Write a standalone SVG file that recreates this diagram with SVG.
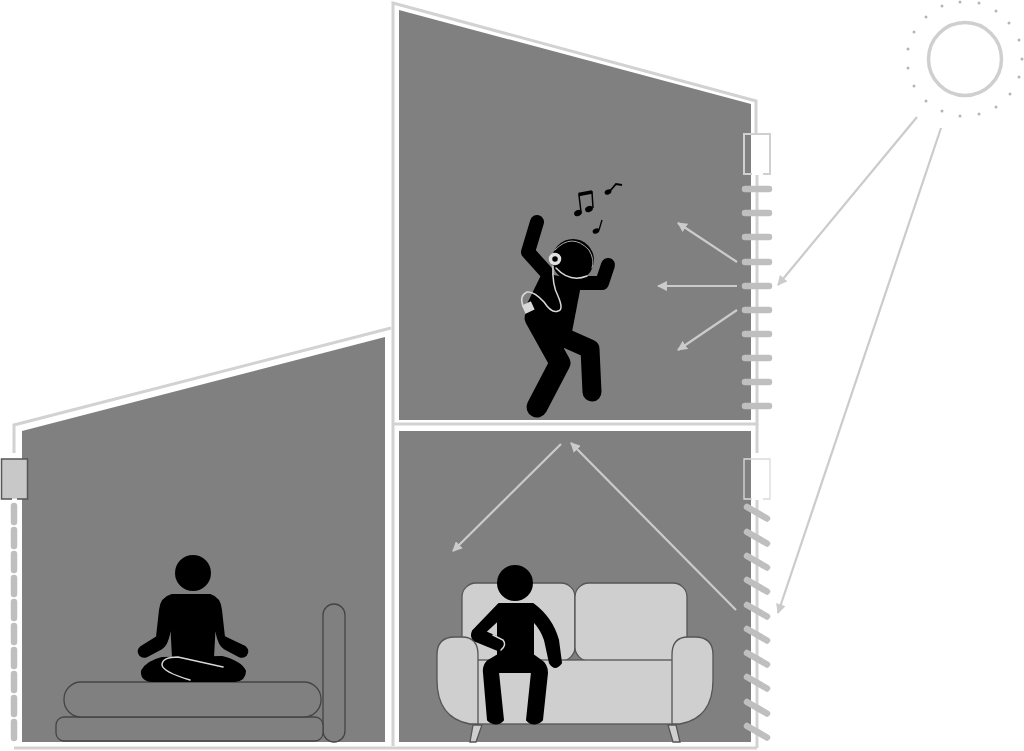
<svg xmlns="http://www.w3.org/2000/svg" width="1024" height="751" viewBox="0 0 1024 751">
<style>
.room{fill:#808080}
.wall{fill:none;stroke:#d2d2d2;stroke-width:3}
.slat{fill:none;stroke:#bfbfbf;stroke-width:6.500;stroke-linecap:round}
.frame{fill:none;stroke:#d0d0d0;stroke-width:2}
.frame.faint{stroke:#dadada;stroke-width:1.300}
.ray{fill:none;stroke:#cbcbcb;stroke-width:2.200}
.sofa{fill:#cfcfcf;stroke:#555;stroke-width:1.300}
.bed{fill:#808080;stroke:#444;stroke-width:1.300}
.body{fill:#000;stroke:#000;stroke-width:2;stroke-linejoin:round}
.limb{fill:none;stroke:#000;stroke-linecap:round;stroke-linejoin:round}
.wire{fill:none;stroke:#d8d8d8;stroke-width:1.500;stroke-linecap:round}
.band{fill:none;stroke:#a8a8a8;stroke-width:1;stroke-linecap:round}
.dot{fill:#b5b5b5}
</style>
<defs>
<marker id="tip" viewBox="0 0 10 10" refX="9" refY="5" markerWidth="4.500" markerHeight="4.500" orient="auto"><path d="M0 0L10 5L0 10Z" fill="#cbcbcb"/></marker>
<path id="flat" d="M745 0H769" class="slat"/>
<path id="tilt" d="M747 0L767 11.500" class="slat"/>
<path id="vert" d="M14 0V16" class="slat"/>
</defs>
<rect width="1024" height="751" fill="#fff"/>

<g id="rooms">
<path class="room" d="M399 10L751 104V420H399Z"/>
<path class="room" d="M399 431H751V742H399Z"/>
<path class="room" d="M22 431L385 337V742H22Z"/>
</g>

<g id="walls">
<path class="wall" d="M393 746V3L756 101V133"/>
<path class="wall" d="M757 175V424H393"/>
<path class="wall" d="M757 424V453"/>
<path class="wall" d="M757 500V748"/>
<path class="wall" d="M14 453V425L391 328"/>
<path class="wall" d="M14 748H757"/>
</g>

<g id="sun">
<circle cx="965" cy="59" r="36.500" fill="#fff" stroke="#cfcfcf" stroke-width="3.500"/>
<g class="dot">
<circle cx="960" cy="2" r="1.500"/><circle cx="979" cy="3" r="1.500"/><circle cx="996" cy="11" r="1.500"/><circle cx="1009" cy="23" r="1.500"/><circle cx="1019" cy="40" r="1.500"/><circle cx="1022" cy="59" r="1.500"/><circle cx="1019" cy="77" r="1.500"/><circle cx="1010" cy="94" r="1.500"/><circle cx="996" cy="107" r="1.500"/><circle cx="979" cy="114" r="1.500"/><circle cx="960" cy="116" r="1.500"/><circle cx="942" cy="111" r="1.500"/><circle cx="926" cy="101" r="1.500"/><circle cx="914" cy="86" r="1.500"/><circle cx="908" cy="68" r="1.500"/><circle cx="908" cy="49" r="1.500"/><circle cx="914" cy="32" r="1.500"/><circle cx="926" cy="17" r="1.500"/><circle cx="942" cy="6" r="1.500"/>
</g>
</g>

<g id="connectors">
<path class="ray" marker-end="url(#tip)" d="M917 117L778 285"/>
<path class="ray" marker-end="url(#tip)" d="M941 128L778 613"/>
<path class="ray" marker-end="url(#tip)" d="M737 262L678 223"/>
<path class="ray" marker-end="url(#tip)" d="M737 286H658"/>
<path class="ray" marker-end="url(#tip)" d="M737 310L678 350"/>
<path class="ray" marker-end="url(#tip)" d="M736 610L571 443"/>
<path class="ray" marker-end="url(#tip)" d="M561 444L453 551"/>
</g>

<g id="upper-blind">
<path class="frame" d="M752 174H744V134H770V174H763"/>
<use href="#flat" y="189"/><use href="#flat" y="213"/><use href="#flat" y="237"/><use href="#flat" y="262"/><use href="#flat" y="286"/><use href="#flat" y="310"/><use href="#flat" y="334"/><use href="#flat" y="358"/><use href="#flat" y="382"/><use href="#flat" y="406"/>
</g>

<g id="lower-blind">
<path class="frame faint" d="M752 499H744V459H770V499H763"/>
<use href="#tilt" y="507"/><use href="#tilt" y="532"/><use href="#tilt" y="556"/><use href="#tilt" y="580"/><use href="#tilt" y="605"/><use href="#tilt" y="629"/><use href="#tilt" y="653"/><use href="#tilt" y="677"/><use href="#tilt" y="702"/><use href="#tilt" y="726"/>
</g>

<g id="side-blind">
<rect x="1.500" y="459" width="26" height="40" fill="#c8c8c8" stroke="#555" stroke-width="1.500"/>
<path d="M12 499.500h5" stroke="#fff" stroke-width="2.500"/>
<use href="#vert" y="506"/><use href="#vert" y="530"/><use href="#vert" y="554"/><use href="#vert" y="578"/><use href="#vert" y="602"/><use href="#vert" y="626"/><use href="#vert" y="650"/><use href="#vert" y="674"/><use href="#vert" y="698"/><use href="#vert" y="722"/>
</g>

<g id="bed">
<rect class="bed" x="323" y="604" width="22" height="138" rx="11"/>
<rect class="bed" x="56" y="717" width="267" height="24" rx="8"/>
<rect class="bed" x="64" y="682" width="257" height="35" rx="17"/>
</g>

<g id="sofa">
<path class="sofa" d="M470 742L473 725H482L476 742Z"/>
<path class="sofa" d="M673 742L668 725H676L680 742Z"/>
<rect class="sofa" x="462" y="583" width="113" height="78" rx="14"/>
<rect class="sofa" x="575" y="583" width="112" height="78" rx="14"/>
<rect class="sofa" x="470" y="660" width="210" height="64"/>
<path class="sofa" d="M437 655Q437 637 455 637H462Q478 637 478 655V724H470Q437 718 437 680Z"/>
<path class="sofa" d="M713 655Q713 637 695 637H688Q672 637 672 655V724H680Q713 718 713 680Z"/>
</g>

<g id="meditating-person">
<circle cx="193" cy="573" r="18"/>
<path class="body" d="M193 595H172Q161 598 160 610L157 637L141 647Q137 651 140 655Q143 658 147 656L162 648Q169 644 171 620L173 658H213L215 620Q217 644 224 648L239 656Q243 658 246 655Q249 651 245 647L224 637L221 610Q220 598 210 595Z"/>
<path class="body" d="M162 658Q146 662 142 671Q141 680 152 681H235Q245 680 245 671Q241 662 222 657Z"/>
<path class="wire" stroke-width="1" d="M223 667L178 657Q162 657 162 665Q163 672 190 680"/>
</g>

<g id="sitting-person">
<circle cx="515" cy="583" r="18"/>
<path class="body" d="M499 604L473 631Q470 638 476 641L498 650Q503 652 505 646Q506 641 501 639L485 632L498 620V655L488 661Q483 666 484 673L488 720Q496 727 503 720L498 672H532L527 720Q534 727 542 720L547 673Q547 664 540 660L533 655V620Q542 630 545 640L550 663Q555 671 561 663L558 640Q552 618 533 604Z"/>
<path class="wire" stroke-width="1" d="M493 635L503 640Q507 645 501 650"/>
</g>

<g id="dancing-person">
<circle cx="573" cy="260" r="21"/>
<path d="M542 273L582 280L572 332L563 350L525 308Z"/>
<path class="limb" stroke-width="14" d="M537 222L528 252L546 272"/>
<path class="limb" stroke-width="14" d="M608 265L602 283L575 283"/>
<path class="limb" stroke-width="21" d="M535 318L560 363L537 407"/>
<path class="limb" stroke-width="19" d="M563 337L590 349L592 392"/>
<path class="band" d="M555 250Q572 232 589 250Q595 260 592 268"/>
<path class="wire" d="M556 268Q570 283 587 276"/>
<path class="wire" d="M553 266Q552 285 558 296Q564 310 558 311Q552 314 544 302Q534 291 527 292Q519 296 523 306"/>
<rect x="523" y="303" width="10" height="9" fill="#d8d8d8" transform="rotate(-25 528 307)"/>
<circle cx="555" cy="259" r="4.500" fill="#000" stroke="#e0e0e0" stroke-width="3.500"/>
<ellipse cx="578" cy="213" rx="4" ry="3" transform="rotate(-25 578 213)"/>
<ellipse cx="589" cy="209" rx="4" ry="3" transform="rotate(-25 589 209)"/>
<path d="M581 212L579 195L592 192L593 208" fill="none" stroke="#000" stroke-width="1.500"/>
<path d="M578.500 194.500L592 192" stroke="#000" stroke-width="3.500"/>
<ellipse cx="608" cy="192" rx="3.500" ry="2.500" transform="rotate(-25 608 192)"/>
<path d="M610 191L616 184L622 185" fill="none" stroke="#000" stroke-width="1.800"/>
<ellipse cx="596" cy="231" rx="3.500" ry="2.500" transform="rotate(-25 596 231)"/>
<path d="M599 230L602 220" stroke="#000" stroke-width="1.300"/>
</g>
</svg>
